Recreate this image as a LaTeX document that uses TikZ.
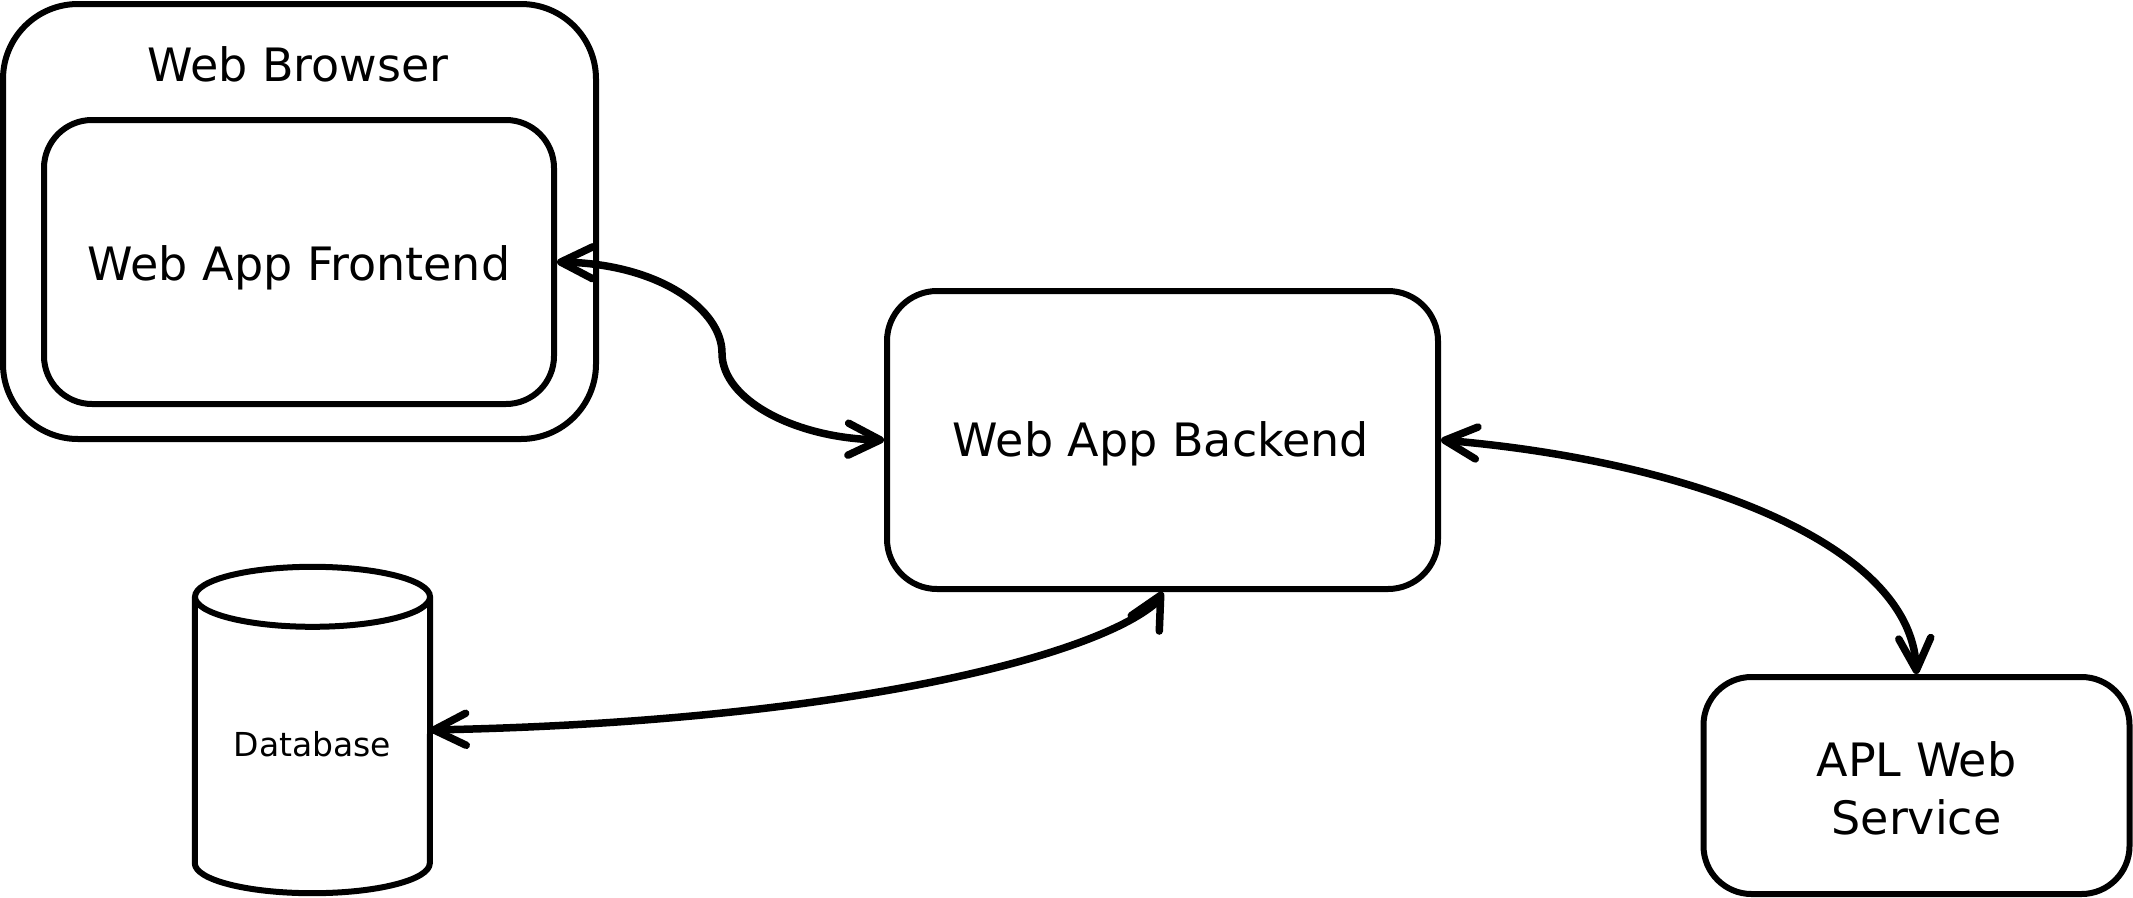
\documentclass[tikz,border=0pt]{standalone}
\usepackage{fontspec}
\setmainfont{DejaVu Sans}
\usetikzlibrary{arrows.meta}
\begin{document}
\begin{tikzpicture}[x=1pt, y=-1pt,
  box/.style={draw, line width=6pt, rounded corners=#1, inner sep=0pt},
  box/.default=50pt,
  outline/.style={draw, line width=6pt},
  lbl/.style={anchor=base, inner sep=0pt, font=\fontsize{46}{58}\selectfont},
  smalllbl/.style={anchor=base, inner sep=0pt, font=\fontsize{33}{40}\selectfont},
  >={Straight Barb[length=32pt, width=32pt, line width=7.5pt, line cap=round, line join=round]},
  link/.style={<->, line width=7.5pt, line cap=round}
]
\useasboundingbox (0,0) rectangle (2133,897);

% containers and components
\node[box=75pt, minimum width=593pt, minimum height=435pt] (browser) at (299.5,221.5) {};
\node[box=48pt, minimum width=510pt, minimum height=284pt] (front) at (299,262) {};
\node[box=50pt, minimum width=551pt, minimum height=298pt] (back) at (1162.5,440) {};
\node[box=48pt, minimum width=426pt, minimum height=217pt] (apl) at (1916.5,785.5) {};

% database cylinder
\node[minimum width=235pt, minimum height=266pt, inner sep=0pt] (db) at (312.5,730) {};
\draw[outline] (db.north) ellipse [x radius=117.5pt, y radius=30pt];
\draw[outline, line join=round] (db.north west) -- (db.south west)
  arc [start angle=180, end angle=360, x radius=117.5pt, y radius=30pt] -- (db.north east);

% labels
\node[lbl] (tbrowser) at (298,81) {Web Browser};
\node[lbl] (tfront) at (299,280) {Web App Frontend};
\node[lbl] (tback) at (1161,456) {Web App Backend};
\node[lbl] (tapl1) at (1916.5,776) {APL Web};
\node[lbl] (tapl2) at (1916.5,834) {Service};
\node[smalllbl] (tdb) at (312.5,756) {Database};

% connectors
\coordinate (fbmid) at (722,353);
\coordinate (dbbend) at (1157,602);
\draw[link] (front.east) .. controls (660,264) and (722,310) .. (fbmid)
  .. controls (722,400) and (795,438) .. (back.west);
\draw[link] (db.east) .. controls (830,722) and (1093,659) .. (dbbend) -- (back.south);
\draw[link] (back.east) .. controls (1680,460) and (1910,540) .. (apl.north);
\end{tikzpicture}
\end{document}
